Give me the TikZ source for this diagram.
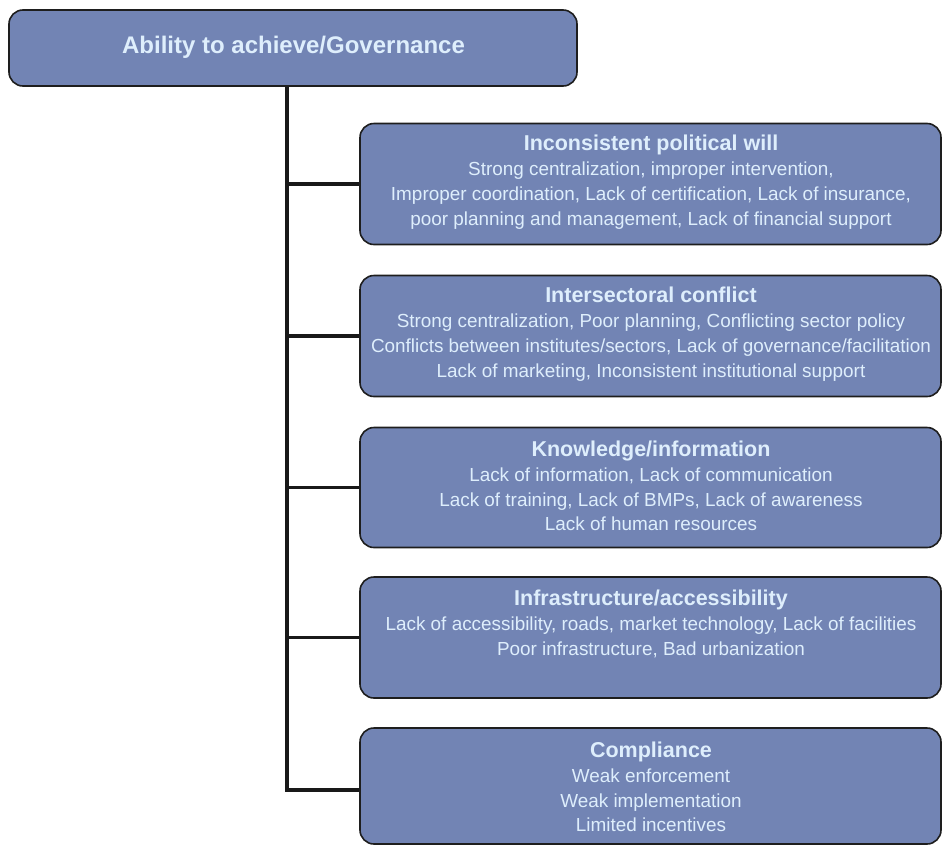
\documentclass[tikz,border=0pt]{standalone}
\usepackage{fontspec}
\setmainfont{Liberation Sans}
\definecolor{boxfill}{RGB}{114,132,180}
\definecolor{boxtext}{RGB}{222,238,252}
\definecolor{boxline}{RGB}{30,30,30}
\newcommand\ttlfont{\fontsize{21.5}{24.8}\selectfont\bfseries}
\begin{document}
\begin{tikzpicture}[x=1pt,y=-1pt,
  box/.style={draw=boxline, line width=1.6pt, fill=boxfill, rounded corners=14pt, inner sep=0pt},
  txt/.style={text=boxtext, align=center, font=\fontsize{18.9}{24.8}\selectfont, inner sep=0pt},
  conn/.style={line width=3.6pt, draw=black!90}]
\useasboundingbox (0,0) rectangle (943,844);
% top
\node[box, minimum width=568pt, minimum height=76pt] (top) at (293,48) {};
\node[txt, font=\fontsize{24}{26}\selectfont\bfseries] (ttop) at (293.5,47) {Ability to achieve/Governance};
% boxes
\node[box, minimum width=581pt, minimum height=121pt] (b1) at (650.5,184) {};
\node[box, minimum width=581pt, minimum height=121pt] (b2) at (650.5,336) {};
\node[box, minimum width=581pt, minimum height=120pt] (b3) at (650.5,487.5) {};
\node[box, minimum width=581pt, minimum height=121pt] (b4) at (650.5,637.5) {};
\node[box, minimum width=581pt, minimum height=116pt] (b5) at (650.5,786) {};
% texts
\node[txt] (t1) at (651,182) {{\ttlfont Inconsistent political will}\\Strong centralization, improper intervention,\\Improper coordination, Lack of certification, Lack of insurance,\\poor planning and management, Lack of financial support};
\node[txt] (t2) at (651,334) {{\ttlfont Intersectoral conflict}\\Strong centralization, Poor planning, Conflicting sector policy\\Conflicts between institutes/sectors, Lack of governance/facilitation\\Lack of marketing, Inconsistent institutional support};
\node[txt] (t3) at (651,486) {{\ttlfont Knowledge/information}\\Lack of information, Lack of communication\\Lack of training, Lack of BMPs, Lack of awareness\\Lack of human resources};
\node[txt] (t4) at (651,624) {{\ttlfont Infrastructure/accessibility}\\Lack of accessibility, roads, market technology, Lack of facilities\\Poor infrastructure, Bad urbanization};
\node[txt] (t5) at (651,787) {{\ttlfont Compliance}\\Weak enforcement\\Weak implementation\\Limited incentives};
% connectors
\coordinate (tk) at (287,790);
\draw[conn] (top.south -| tk) -- (tk) -- (b5.west |- tk);
\draw[conn] (b1.west -| tk) -- (b1.west);
\draw[conn] (b2.west -| tk) -- (b2.west);
\draw[conn] (b3.west -| tk) -- (b3.west);
\draw[conn] (b4.west -| tk) -- (b4.west);
\end{tikzpicture}
\end{document}
